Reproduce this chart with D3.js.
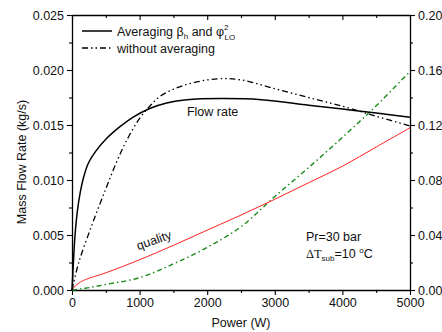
<!DOCTYPE html>
<html>
<head>
<meta charset="utf-8">
<script src="https://cdn.jsdelivr.net/npm/d3@7"></script>
<style>
  body { margin: 0; background: #fff; }
  svg { font-family: "Liberation Sans", Arial, sans-serif; }
</style>
</head>
<body>
<div id="chart"></div>
<script>
// power (W) and mass flow rate (kg/s), averaging
const avgPower = [0, 20, 45, 80, 120, 170, 240, 350, 500, 700, 900, 1150, 1400, 1700, 2200, 2800, 3500, 4000, 4500, 5000];
const avgFlow = [0, 0.0024, 0.005, 0.0072, 0.0088, 0.0102, 0.0115, 0.0126, 0.0137, 0.0148, 0.0157, 0.0165, 0.0170, 0.0173, 0.0174, 0.0173, 0.0168, 0.01645, 0.0161, 0.0157];

// without averaging
const rawPower = [0, 100, 300, 500, 650, 800, 1000, 1150, 1300, 1650, 2150, 2500, 3000, 3500, 4000, 4500, 5000];
const rawFlow = [0, 0.0025, 0.006, 0.0092, 0.0115, 0.0135, 0.0156, 0.0167, 0.0176, 0.0186, 0.0192, 0.0191, 0.0183, 0.0175, 0.0167, 0.0158, 0.0149];

// quality (right axis)
const qualPower = [0, 50, 100, 200, 500, 1000, 1500, 2000, 2500, 3000, 3500, 4000, 4500, 5000];
const qualAvg = [0, 0.003, 0.005, 0.0076, 0.0125, 0.022, 0.0325, 0.0435, 0.0545, 0.066, 0.078, 0.090, 0.104, 0.118];
const qualRaw = [0, 0.0003, 0.0007, 0.0013, 0.004, 0.009, 0.019, 0.031, 0.046, 0.068, 0.089, 0.111, 0.134, 0.159];

const xTicks = [0, 1000, 2000, 3000, 4000, 5000];
const yLeftTicks = [0, 0.005, 0.010, 0.015, 0.020, 0.025];
const yRightTicks = [0, 0.04, 0.08, 0.12, 0.16, 0.20];

const width = 442, height = 332;
const margin = { top: 15, right: 32, bottom: 42, left: 72 };
const innerW = width - margin.left - margin.right;
const innerH = height - margin.top - margin.bottom;
const fs = 12.5;

const x = d3.scaleLinear().domain([0, 5000]).range([0, innerW]);
const yL = d3.scaleLinear().domain([0, 0.025]).range([innerH, 0]);
const yR = d3.scaleLinear().domain([0, 0.20]).range([innerH, 0]);

const svg = d3.select("#chart").append("svg")
  .attr("width", width).attr("height", height);
const g = svg.append("g").attr("transform", `translate(${margin.left},${margin.top})`);

// minor ticks
const minorX = d3.range(500, 5000, 1000);
const minorL = d3.range(0.0025, 0.025, 0.005);
const minorR = d3.range(0.02, 0.2, 0.04);

const styleAxis = (sel) => {
  sel.selectAll("path").attr("stroke", "#000").attr("stroke-width", 1.3);
  sel.selectAll("line").attr("stroke", "#000").attr("stroke-width", 1.1);
  sel.selectAll("text").attr("font-size", fs).attr("fill", "#111");
};

g.append("g").attr("transform", `translate(0,${innerH})`)
  .call(d3.axisBottom(x).tickValues(xTicks).tickFormat(d3.format("d")).tickSizeInner(5).tickSizeOuter(0).tickPadding(3))
  .call(styleAxis);
g.append("g").attr("transform", `translate(0,${innerH})`)
  .call(d3.axisBottom(x).tickValues(minorX).tickSize(3).tickFormat(""))
  .call(styleAxis).select(".domain").remove();

g.append("g")
  .call(d3.axisTop(x).tickValues(xTicks).tickSizeInner(-5).tickSizeOuter(0).tickFormat(""))
  .call(styleAxis);
g.append("g")
  .call(d3.axisTop(x).tickValues(minorX).tickSize(-3).tickFormat(""))
  .call(styleAxis).select(".domain").remove();

g.append("g")
  .call(d3.axisLeft(yL).tickValues(yLeftTicks).tickFormat(d3.format(".3f")).tickSizeInner(5).tickSizeOuter(0).tickPadding(3))
  .call(styleAxis);
g.append("g")
  .call(d3.axisLeft(yL).tickValues(minorL).tickSize(3).tickFormat(""))
  .call(styleAxis).select(".domain").remove();

g.append("g").attr("transform", `translate(${innerW},0)`)
  .call(d3.axisRight(yR).tickValues(yRightTicks).tickFormat(d3.format(".2f")).tickSizeInner(5).tickSizeOuter(0).tickPadding(3))
  .call(styleAxis);
g.append("g").attr("transform", `translate(${innerW},0)`)
  .call(d3.axisRight(yR).tickValues(minorR).tickSize(3).tickFormat(""))
  .call(styleAxis).select(".domain").remove();

// curves
const curve = d3.curveCatmullRom.alpha(0.5);
const lineL = d3.line().x(d => x(d[0])).y(d => yL(d[1])).curve(curve);
const lineR = d3.line().x(d => x(d[0])).y(d => yR(d[1])).curve(curve);

const series = g.append("g").attr("class", "series");
series.append("path")
  .attr("d", lineR(d3.zip(qualPower, qualRaw)))
  .attr("fill", "none").attr("stroke", "#1a8a1a").attr("stroke-width", 1.4)
  .attr("stroke-dasharray", "5,3,1.5,3");
series.append("path")
  .attr("d", lineR(d3.zip(qualPower, qualAvg)))
  .attr("fill", "none").attr("stroke", "#ff2020").attr("stroke-width", 1);
series.append("path")
  .attr("d", lineL(d3.zip(rawPower, rawFlow)))
  .attr("fill", "none").attr("stroke", "#000").attr("stroke-width", 1.3)
  .attr("stroke-dasharray", "6,3,1.5,3,1.5,3");
series.append("path")
  .attr("d", lineL(d3.zip(avgPower, avgFlow)))
  .attr("fill", "none").attr("stroke", "#000").attr("stroke-width", 1.5);

// legend
const legend = g.append("g").attr("transform", "translate(10,16)");
legend.append("line").attr("x1", 0).attr("x2", 30).attr("y1", 0).attr("y2", 0)
  .attr("stroke", "#000").attr("stroke-width", 1.5);
legend.append("line").attr("x1", 0).attr("x2", 30).attr("y1", 17).attr("y2", 17)
  .attr("stroke", "#000").attr("stroke-width", 1.3).attr("stroke-dasharray", "6,3,1.5,3,1.5,3");
const t1 = legend.append("text").attr("x", 35).attr("y", 4.5).attr("font-size", fs).attr("fill", "#111");
t1.append("tspan").text("Averaging β");
t1.append("tspan").attr("font-size", 8).attr("dy", 3).text("h");
t1.append("tspan").attr("dy", -3).text(" and φ");
t1.append("tspan").attr("font-size", 8).attr("dy", -6).text("2");
t1.append("tspan").attr("font-size", 8).attr("dx", -4).attr("dy", 10).text("LO");
legend.append("text").attr("x", 35).attr("y", 21.5).attr("font-size", fs).attr("fill", "#111")
  .text("without averaging");

// annotations
g.append("text").attr("x", x(1700)).attr("y", yL(0.0158)).attr("font-size", fs).attr("fill", "#111")
  .text("Flow rate");
g.append("text")
  .attr("transform", `translate(${x(980)},${yR(0.029)}) rotate(-19)`)
  .attr("font-size", fs).attr("fill", "#111").text("quality");
g.append("text").attr("x", x(3460)).attr("y", yR(0.036)).attr("font-size", fs).attr("fill", "#111")
  .text("Pr=30 bar");
const t2 = g.append("text").attr("x", x(3460)).attr("y", yR(0.023)).attr("font-size", fs).attr("fill", "#111");
t2.append("tspan").attr("font-family", "'Liberation Serif', serif").text("ΔT");
t2.append("tspan").attr("font-size", 8).attr("dy", 3).text("sub");
t2.append("tspan").attr("dy", -3).text("=10 ");
t2.append("tspan").attr("font-size", 8).attr("dy", -5).text("o");
t2.append("tspan").attr("dy", 5).text("C");

// axis titles
svg.append("text").attr("x", margin.left + x(2500)).attr("y", 327)
  .attr("text-anchor", "middle").attr("font-size", fs).attr("fill", "#111").text("Power (W)");
svg.append("text").attr("transform", `translate(26,${162}) rotate(-90)`)
  .attr("text-anchor", "middle").attr("font-size", fs).attr("fill", "#111").text("Mass Flow Rate (kg/s)");
</script>
</body>
</html>
